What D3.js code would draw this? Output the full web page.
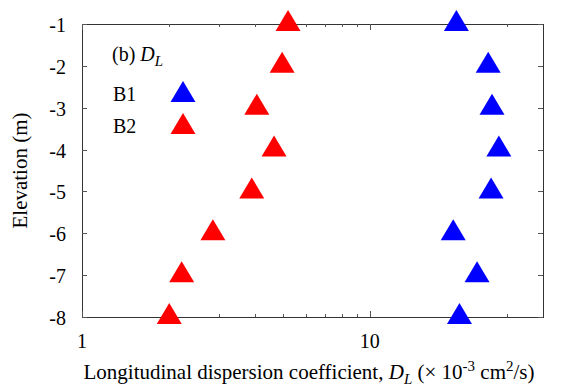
<!DOCTYPE html>
<html>
<head>
<meta charset="utf-8">
<script src="https://cdn.jsdelivr.net/npm/d3@7"></script>
<style>
  body { margin: 0; background: #fff; }
  svg { display: block; }
  text { font-family: "Liberation Serif", "DejaVu Serif", serif; fill: #000; }
</style>
</head>
<body>
<svg id="chart" width="561" height="388"></svg>
<script>
// elevations (m)
const elevation = [-1, -2, -3, -4, -5, -6, -7, -8];
// longitudinal dispersion coefficient, x 10^-3 cm2/s
const b1 = [20.0, 25.8, 26.6, 28.1, 26.4, 19.5, 23.6, 20.5];
const b2 = [5.2, 4.96, 4.05, 4.65, 3.89, 2.85, 2.22, 2.01];
const yTicks = [-1, -2, -3, -4, -5, -6, -7, -8];
const xMajor = [1, 10];
const xMinor = [2, 3, 4, 5, 6, 7, 8, 9, 20, 30];

const svg = d3.select('#chart');
const m = { left: 82, right: 543, top: 24, bottom: 317 };

const x = d3.scaleLog().domain([1, 40]).range([m.left, m.right]);
const y = d3.scaleLinear().domain([-8, -1]).range([m.bottom, m.top]);

// triangle marker: side 25, centred on its centroid
const tri = 'M0,-14L12.5,7L-12.5,7Z';

// frame
svg.append('rect')
  .attr('x', m.left + 0.5).attr('y', m.top + 0.5)
  .attr('width', m.right - m.left).attr('height', m.bottom - m.top)
  .attr('fill', 'none').attr('stroke', '#333').attr('stroke-width', 1);

// ticks, inward on all four sides
const ticks = svg.append('g').attr('stroke', '#555').attr('stroke-width', 1);
xMajor.concat(xMinor).forEach(v => {
  const len = xMajor.includes(v) ? 6 : 3;
  const px = Math.round(x(v)) + 0.5;
  ticks.append('line').attr('x1', px).attr('x2', px).attr('y1', m.bottom).attr('y2', m.bottom - len);
  ticks.append('line').attr('x1', px).attr('x2', px).attr('y1', m.top).attr('y2', m.top + len);
});
yTicks.forEach(v => {
  const py = Math.round(y(v)) + 0.5;
  ticks.append('line').attr('x1', m.left).attr('x2', m.left + 5).attr('y1', py).attr('y2', py);
  ticks.append('line').attr('x1', m.right).attr('x2', m.right - 5).attr('y1', py).attr('y2', py);
});

// tick labels
svg.append('g').selectAll('text').data(yTicks).join('text')
  .attr('x', 66).attr('y', d => y(d) + 8)
  .attr('text-anchor', 'end').attr('font-size', 20)
  .text(d => d);
svg.append('g').selectAll('text').data(xMajor).join('text')
  .attr('x', d => x(d)).attr('y', 348)
  .attr('text-anchor', 'middle').attr('font-size', 20)
  .text(d => d);

// axis titles
const xt = svg.append('text')
  .attr('x', 309).attr('y', 379)
  .attr('text-anchor', 'middle').attr('font-size', 21);
xt.append('tspan').text('Longitudinal dispersion coefficient, ');
xt.append('tspan').attr('font-style', 'italic').text('D');
xt.append('tspan').attr('font-style', 'italic').attr('font-size', 15).attr('dy', 5).text('L');
xt.append('tspan').attr('dy', -5).text(' (× 10');
xt.append('tspan').attr('font-size', 15).attr('dy', -8).text('-3');
xt.append('tspan').attr('dy', 8).text(' cm');
xt.append('tspan').attr('font-size', 15).attr('dy', -8).text('2');
xt.append('tspan').attr('dy', 8).text('/s)');

svg.append('text')
  .attr('transform', `translate(27,${(m.top + m.bottom) / 2}) rotate(-90)`)
  .attr('text-anchor', 'middle').attr('font-size', 21)
  .text('Elevation (m)');

// data
const series = [{ vals: b1, color: '#0000ff' }, { vals: b2, color: '#ff0000' }];
series.forEach(s => {
  svg.append('g').selectAll('path').data(s.vals).join('path')
    .attr('d', tri)
    .attr('transform', (d, i) => `translate(${x(d)},${y(elevation[i])})`)
    .attr('fill', s.color);
});

// legend
const lg = svg.append('g');
const t0 = lg.append('text').attr('x', 112).attr('y', 61).attr('font-size', 20);
t0.append('tspan').text('(b) ');
t0.append('tspan').attr('font-style', 'italic').text('D');
t0.append('tspan').attr('font-style', 'italic').attr('font-size', 15).attr('dy', 5).text('L');
[['B1', '#0000ff', 101], ['B2', '#ff0000', 133]].forEach(([name, c, by]) => {
  lg.append('text').attr('x', 113).attr('y', by).attr('font-size', 20).text(name);
  lg.append('path').attr('d', tri)
    .attr('transform', `translate(183,${by - 6})`).attr('fill', c);
});
</script>
</body>
</html>
